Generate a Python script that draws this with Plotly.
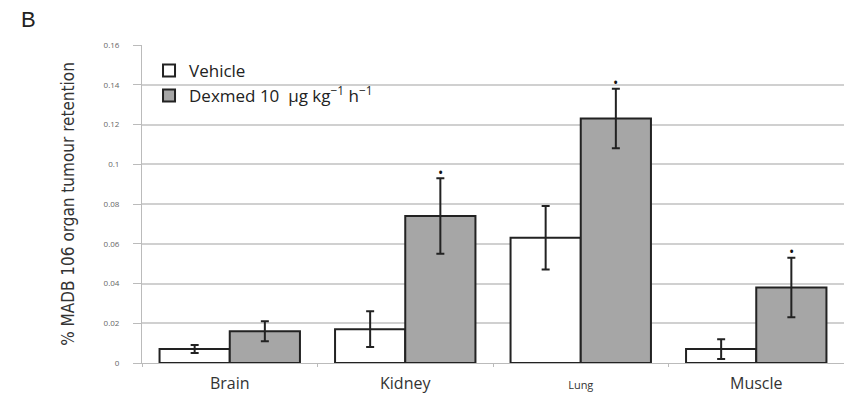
import plotly.graph_objects as go

categories = ["Brain", "Kidney", "Lung", "Muscle"]
tick_text = ["Brain", "Kidney", "<span style='font-size:11px'>Lung</span>", "Muscle"]
vehicle = [0.007, 0.017, 0.063, 0.007]
vehicle_err = [0.002, 0.009, 0.016, 0.005]
dexmed = [0.016, 0.074, 0.123, 0.038]
dexmed_err = [0.005, 0.019, 0.015, 0.015]
significant = [False, True, True, True]
y_ticks = [0, 0.02, 0.04, 0.06, 0.08, 0.1, 0.12, 0.14, 0.16]
y_tick_text = ["0", "0.02", "0.04", "0.06", "0.08", "0.1", "0.12", "0.14", "0.16"]

fig = go.Figure()
fig.add_trace(go.Bar(
    x=categories, y=vehicle, name="Vehicle",
    marker=dict(color="white", line=dict(color="#222", width=2)),
    error_y=dict(type="data", array=vehicle_err, color="#222", thickness=2, width=4),
))
fig.add_trace(go.Bar(
    x=categories, y=dexmed, name="Dexmed 10  μg kg<sup>−1</sup> h<sup>−1</sup>",
    marker=dict(color="#a6a6a6", line=dict(color="#222", width=2)),
    error_y=dict(type="data", array=dexmed_err, color="#222", thickness=2, width=4),
))

annotations = []
for c, v, e, s in zip(categories, dexmed, dexmed_err, significant):
    if s:
        annotations.append(dict(x=c, y=v + e, xref="x", yref="y", text="•",
                                showarrow=False, xshift=35, yshift=6,
                                font=dict(size=14, color="#111")))
annotations.append(dict(xref="paper", yref="paper", x=-0.175, y=1.125,
                        xanchor="left", yanchor="top", text="B", showarrow=False,
                        font=dict(size=22, color="#222", family="Liberation Sans")))

fig.update_layout(
    width=844, height=399,
    margin=dict(l=142, r=0, t=45, b=36),
    paper_bgcolor="white", plot_bgcolor="white",
    barmode="group", bargap=0.2, bargroupgap=0,
    font=dict(family="Open Sans", color="#333"),
    legend=dict(x=0.01, y=0.975, xanchor="left", yanchor="top",
                bgcolor="rgba(255,255,255,0)", font=dict(size=17, color="#222"),
                itemwidth=30, tracegroupgap=0),
    annotations=annotations,
    showlegend=True,
)
fig.update_xaxes(
    type="category", tickvals=categories, ticktext=tick_text,
    tickson="boundaries", ticks="outside", ticklen=3, tickcolor="#bbb",
    showline=True, linecolor="#bbb", linewidth=1,
    tickfont=dict(size=16, color="#333", family="Open Sans"),
    ticklabelstandoff=6,
)
fig.update_yaxes(
    range=[0, 0.16], tickvals=y_ticks, ticktext=y_tick_text,
    ticks="outside", ticklen=8, tickcolor="#bbb",
    showline=True, linecolor="#bbb", linewidth=1,
    showgrid=True, gridcolor="#d0d0d0", gridwidth=1.5,
    tickfont=dict(size=8, color="#666"),
    ticklabelstandoff=12,
    title=dict(text="% MADB 106 organ tumour retention",
               font=dict(size=17, color="#333", family="DejaVu Sans Condensed, Liberation Sans"),
               standoff=24),
    zeroline=False,
)
fig.write_html("out.html")
